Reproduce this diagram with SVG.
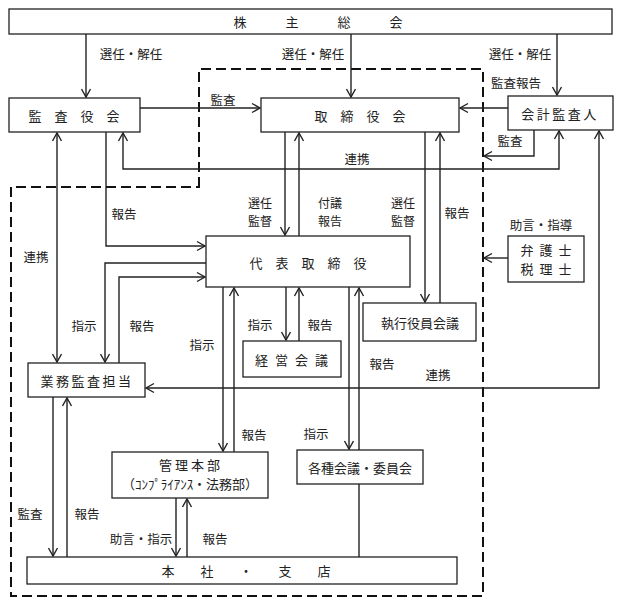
<svg xmlns="http://www.w3.org/2000/svg" width="618" height="604" viewBox="0 0 618 604">
<style>
.box{fill:#fff;stroke:#222;stroke-width:1.3}
.t{font-family:"Noto Sans CJK JP","Noto Sans CJK SC",sans-serif;font-size:13px;fill:#222;text-anchor:middle;dominant-baseline:central}
.l{font-family:"Noto Sans CJK JP","Noto Sans CJK SC",sans-serif;font-size:12.5px;fill:#222;text-anchor:middle;dominant-baseline:central}
.s{font-size:12px}
.c{fill:none;stroke:#222;stroke-width:1.4}
.dash{fill:none;stroke:#111;stroke-width:2;stroke-dasharray:10,5}
</style>
<defs>
<marker id="a" markerUnits="userSpaceOnUse" markerWidth="12" markerHeight="12" viewBox="-10 -6 12 12" refX="0" refY="0" orient="auto-start-reverse">
<path d="M-8,-4.5 L0,0 L-8,4.5" fill="none" stroke="#222" stroke-width="1.4"/>
</marker>
</defs>
<rect width="618" height="604" fill="#fff"/>
<path class="dash" d="M199,187 V69 H483 V596 H11 V187 Z"/>
<g id="connectors">
<path class="c" d="M86,34 V97" marker-end="url(#a)"/>
<path class="c" d="M351,34 V97" marker-end="url(#a)"/>
<path class="c" d="M557,34 V95" marker-end="url(#a)"/>
<path class="c" d="M140,108 H260" marker-end="url(#a)"/>
<path class="c" d="M508,108 H460" marker-end="url(#a)"/>
<path class="c" d="M534,130 V156 H484" marker-end="url(#a)"/>
<path class="c" d="M123,133 V169 H559 V131" marker-start="url(#a)" marker-end="url(#a)"/>
<path class="c" d="M599,131 V388 H146" marker-start="url(#a)" marker-end="url(#a)"/>
<path class="c" d="M57,133 V362" marker-start="url(#a)" marker-end="url(#a)"/>
<path class="c" d="M106,132 V246 H205" marker-end="url(#a)"/>
<path class="c" d="M206,263 H105 V362" marker-end="url(#a)"/>
<path class="c" d="M119,363 V277 H205" marker-end="url(#a)"/>
<path class="c" d="M285,132 V235" marker-end="url(#a)"/>
<path class="c" d="M299,236 V133" marker-end="url(#a)"/>
<path class="c" d="M425,132 V302" marker-end="url(#a)"/>
<path class="c" d="M440,303 V133" marker-end="url(#a)"/>
<path class="c" d="M508,258 H484" marker-end="url(#a)"/>
<path class="c" d="M286,287 V340" marker-end="url(#a)"/>
<path class="c" d="M299,341 V288" marker-end="url(#a)"/>
<path class="c" d="M223,287 V451" marker-end="url(#a)"/>
<path class="c" d="M234,452 V288" marker-end="url(#a)"/>
<path class="c" d="M349,287 V449" marker-end="url(#a)"/>
<path class="c" d="M359,450 V288" marker-end="url(#a)"/>
<path class="c" d="M359,484 V557"/>
<path class="c" d="M53,397 V556" marker-end="url(#a)"/>
<path class="c" d="M67,557 V398" marker-end="url(#a)"/>
<path class="c" d="M176,498 V556" marker-end="url(#a)"/>
<path class="c" d="M187,557 V499" marker-end="url(#a)"/>
</g>
<g id="labels">
<text class="l" x="131" y="53">選任・解任</text>
<text class="l" x="313" y="53">選任・解任</text>
<text class="l" x="520" y="53">選任・解任</text>
<text class="l" x="516" y="82">監査報告</text>
<text class="l" x="223" y="99">監査</text>
<text class="l" x="510" y="140">監査</text>
<text class="l" x="357" y="158">連携</text>
<text class="l" x="124" y="213">報告</text>
<text class="l" x="36" y="256">連携</text>
<text class="l s" x="260" y="202">選任</text>
<text class="l s" x="260" y="220">監督</text>
<text class="l s" x="330" y="202">付議</text>
<text class="l s" x="330" y="220">報告</text>
<text class="l s" x="403" y="202">選任</text>
<text class="l s" x="403" y="220">監督</text>
<text class="l" x="457" y="212">報告</text>
<text class="l" x="541" y="224">助言・指導</text>
<text class="l" x="84" y="325">指示</text>
<text class="l" x="142" y="325">報告</text>
<text class="l" x="260" y="324">指示</text>
<text class="l" x="320" y="324">報告</text>
<text class="l" x="202" y="344">指示</text>
<text class="l" x="382" y="363">報告</text>
<text class="l" x="438" y="374">連携</text>
<text class="l" x="254" y="434">報告</text>
<text class="l" x="316" y="433">指示</text>
<text class="l" x="30" y="513">監査</text>
<text class="l" x="87" y="513">報告</text>
<text class="l" x="141" y="538">助言・指示</text>
<text class="l" x="215" y="538">報告</text>
</g>
<g id="kabunushi"><rect class="box" x="9" y="9" width="603" height="25"/><text class="t" x="318" y="21.5">株　　　主　　　総　　　会</text></g>
<g id="kansayakukai"><rect class="box" x="9" y="98" width="131" height="34"/><text class="t" x="74" y="115">監　査　役　会</text></g>
<g id="torishimariyakukai"><rect class="box" x="261" y="98" width="198" height="34"/><text class="t" x="360" y="115">取　締　役　会</text></g>
<g id="kaikeikansanin"><rect class="box" x="508" y="96" width="105" height="34"/><text class="t" x="560" y="113" letter-spacing="2.5">会計監査人</text></g>
<g id="daihyo"><rect class="box" x="206" y="236" width="204" height="51"/><text class="t" x="308" y="262">代　表　取　締　役</text></g>
<g id="bengoshi"><rect class="box" x="508" y="236" width="76" height="46"/><text class="t" x="549" y="249" font-size="12" letter-spacing="6">弁護士</text><text class="t" x="549" y="268" font-size="12" letter-spacing="6">税理士</text></g>
<g id="shikko"><rect class="box" x="363" y="303" width="113" height="38"/><text class="t" x="420" y="322">執行役員会議</text></g>
<g id="keiei"><rect class="box" x="243" y="341" width="98" height="36"/><text class="t" x="295" y="359" letter-spacing="7">経営会議</text></g>
<g id="gyomu"><rect class="box" x="28" y="363" width="117" height="34"/><text class="t" x="87" y="380" letter-spacing="2.5">業務監査担当</text></g>
<g id="kanri"><rect class="box" x="112" y="452" width="156" height="46"/><text class="t" x="191" y="464" letter-spacing="3">管理本部</text><text class="t" x="190" y="483" font-size="12" textLength="136" lengthAdjust="spacing">（ｺﾝﾌﾟﾗｲｱﾝｽ・法務部）</text></g>
<g id="kakushu"><rect class="box" x="297" y="450" width="126" height="34"/><text class="t" x="360" y="467">各種会議・委員会</text></g>
<g id="honsha"><rect class="box" x="27" y="557" width="430" height="27"/><text class="t" x="246" y="570.5" font-size="14">本　　社　　・　　支　　店</text></g>
</svg>
